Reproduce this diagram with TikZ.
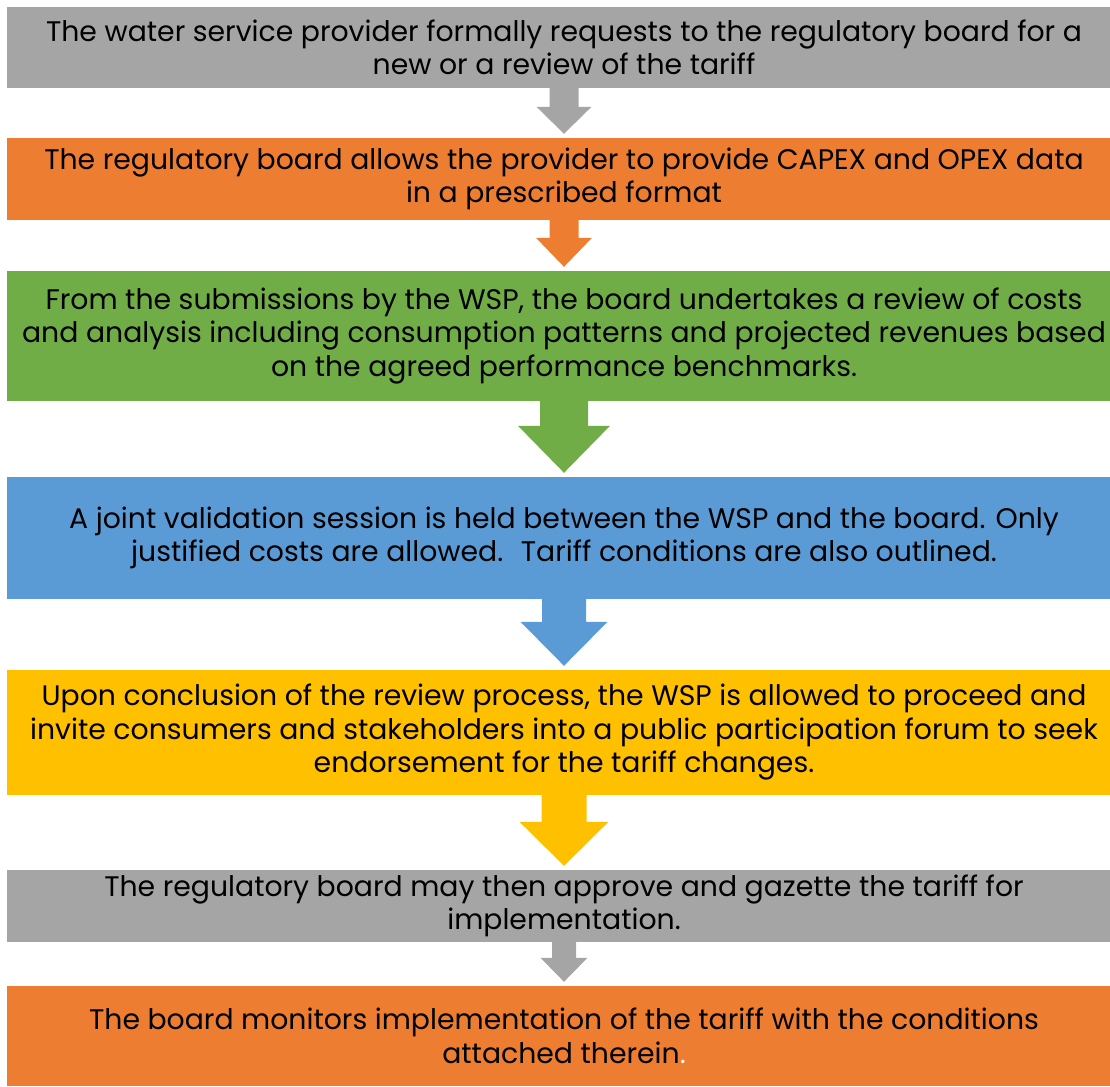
\documentclass[tikz,border=0pt]{standalone}
\usepackage{fontspec}
\setmainfont{Poppins}
\usepackage{xcolor}
\usetikzlibrary{calc}

\definecolor{stagegray}{HTML}{A5A5A5}
\definecolor{stageorange}{HTML}{ED7D31}
\definecolor{stagegreen}{HTML}{70AD47}
\definecolor{stageblue}{HTML}{5B9BD5}
\definecolor{stageyellow}{HTML}{FFC000}

\tikzset{
    stage/.style={rectangle, minimum width=1114pt, inner sep=0pt, align=center,
        text=black, font=\fontsize{28.3}{33.5}\selectfont}
}

% block arrow: from, to, half shaft, half head, head length, colour
\newcommand{\stagearrow}[6]{%
    \fill[#6] ($(#1.south)+(-#3,0)$) -- ($(#1.south)+(#3,0)$)
        -- ($(#2.north)+(#3,-4-#5)$) -- ($(#2.north)+(#4,-4-#5)$)
        -- ($(#2.north)+(0,-4)$)
        -- ($(#2.north)+(-#4,-4-#5)$) -- ($(#2.north)+(-#3,-4-#5)$) -- cycle;}

\begin{document}
\begin{tikzpicture}[x=1pt, y=-1pt]
    \useasboundingbox (0,0) rectangle (1110,1086);
    % the stages
    \node[stage, fill=stagegray, minimum height=81pt] (s1) at (564,47.5)
        {The water service provider formally requests to the regulatory board for a\\new or a review of the tariff};
    \node[stage, fill=stageorange, minimum height=82pt] (s2) at (564,179)
        {The regulatory board allows the provider to provide CAPEX and OPEX data\\in a prescribed format};
    \node[stage, fill=stagegreen, minimum height=130pt] (s3) at (564,336)
        {From the submissions by the WSP, the board undertakes a review of costs\\and analysis including consumption patterns and projected revenues based\\on the agreed performance benchmarks.};
    \node[stage, fill=stageblue, minimum height=122pt] (s4) at (564,538)
        {A joint validation session is held between the WSP and the board. Only\\justified costs are allowed.~ Tariff conditions are also outlined.};
    \node[stage, fill=stageyellow, minimum height=125pt] (s5) at (564,732.5)
        {Upon conclusion of the review process, the WSP is allowed to proceed and\\invite consumers and stakeholders into a public participation forum to seek\\endorsement for the tariff changes.};
    \node[stage, fill=stagegray, minimum height=72pt] (s6) at (564,906)
        {The regulatory board may then approve and gazette the tariff for\\implementation.};
    \node[stage, fill=stageorange, minimum height=100pt] (s7) at (564,1036)
        {The board monitors implementation of the tariff with the conditions\\attached therein\textcolor{white}{.}};
    % arrows between them
    \stagearrow{s1}{s2}{14.5}{27.5}{27}{stagegray}
    \stagearrow{s2}{s3}{14.5}{28}{29}{stageorange}
    \stagearrow{s3}{s4}{24}{46}{47}{stagegreen}
    \stagearrow{s4}{s5}{22}{43.5}{44}{stageblue}
    \stagearrow{s5}{s6}{22.5}{44.5}{44}{stageyellow}
    \stagearrow{s6}{s7}{12}{23.5}{24}{stagegray}
\end{tikzpicture}
\end{document}
